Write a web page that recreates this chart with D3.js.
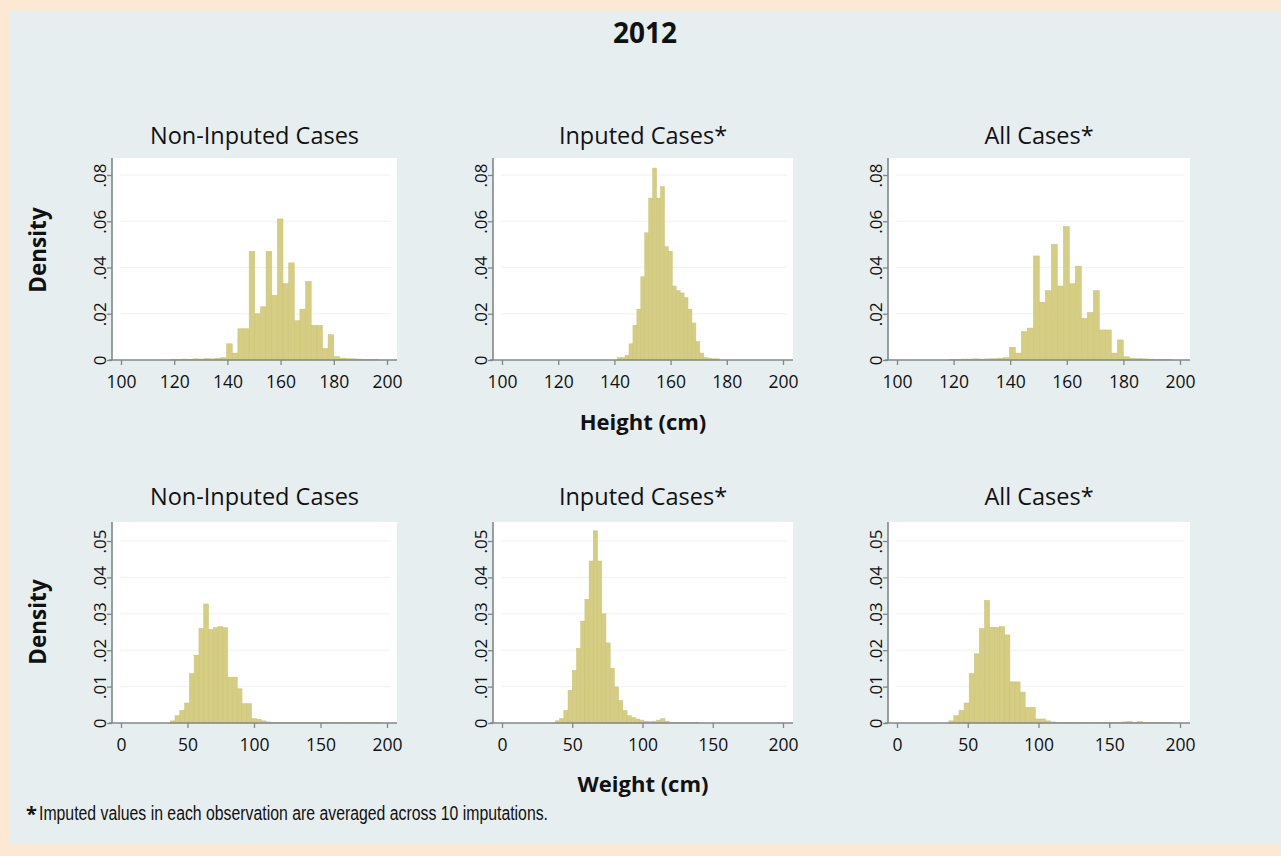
<!DOCTYPE html>
<html>
<head>
<meta charset="utf-8">
<script src="https://cdn.jsdelivr.net/npm/d3@7"></script>
<style>
  html, body { margin: 0; padding: 0; background: #fde9d3; }
  svg { display: block; }
  text { font-family: "Open Sans", "Noto Sans", sans-serif; fill: #111; }
</style>
</head>
<body>
<svg id="chart" width="1281" height="856"></svg>
<script>
// ---- Tick values and titles ----
const heightTicks = [100, 120, 140, 160, 180, 200];
const weightTicks = [0, 50, 100, 150, 200];
const heightDensityTicks = [0, 0.02, 0.04, 0.06, 0.08];
const weightDensityTicks = [0, 0.01, 0.02, 0.03, 0.04, 0.05];
const panelTitles = ["Non-Inputed Cases", "Inputed Cases*", "All Cases*"];

// ---- Histogram bins: left edge of the first bin and bin width (data units) ----
const heightNonImputedBins = { start: 118.5, width: 2.12 };
const heightImputedBins    = { start: 141.0, width: 1.4 };
const heightAllBins        = { start: 118.5, width: 2.12 };
const weightNonImputedBins = { start: 37.0, width: 3.6 };
const weightImputedBins    = { start: 38.0, width: 3.0 };
const weightAllBins        = { start: 36.6, width: 3.6 };

// ---- Bin densities ----
const heightNonImputed = [
  0.0003, 0.0003, 0.0004, 0.0003, 0.0005, 0.0004, 0.0006, 0.0005, 0.0008, 0.0010,
  0.007, 0.003, 0.0135, 0.0135, 0.047, 0.020, 0.023, 0.047, 0.028, 0.061,
  0.033, 0.042, 0.017, 0.022, 0.034, 0.015, 0.015, 0.005, 0.011,
  0.0015, 0.0008, 0.0006, 0.0005, 0.0004, 0.0003, 0.0003, 0.0002
];
const heightImputed = [
  0.001, 0.001, 0.002, 0.007, 0.015, 0.022, 0.036, 0.055, 0.070, 0.083,
  0.070, 0.075, 0.049, 0.047, 0.032, 0.030, 0.029, 0.027, 0.022, 0.016,
  0.008, 0.003, 0.001, 0.0008, 0.0005, 0.0005
];
const heightAll = [
  0.0003, 0.0003, 0.0004, 0.0004, 0.0005, 0.0004, 0.0005, 0.0006, 0.0008, 0.0010,
  0.0055, 0.003, 0.0123, 0.0138, 0.045, 0.025, 0.030, 0.050, 0.032, 0.0577,
  0.033, 0.0406, 0.018, 0.0206, 0.030, 0.013, 0.013, 0.003, 0.0087,
  0.0014, 0.0008, 0.0006, 0.0005, 0.0004, 0.0003, 0.0003, 0.0002
];
const weightNonImputed = [
  0.0006, 0.002, 0.0035, 0.0055, 0.0136, 0.0186, 0.026, 0.0327, 0.0257, 0.0262,
  0.0265, 0.0262, 0.0126, 0.0126, 0.0094, 0.0053, 0.0053, 0.0012, 0.0010, 0.0006,
  0.0003, 0.0002, 0.0002, 0.0002, 0.0001, 0.0001, 0.0002, 0.0001, 0.0001, 0.0002,
  0.0001, 0.0001, 0.0002, 0.0001, 0.0001, 0.0001, 0.0001, 0.0001, 0.0001, 0.0001,
  0.0001, 0.0001, 0.0001, 0.0001
];
const weightImputed = [
  0.0006, 0.0012, 0.0035, 0.009, 0.0145, 0.0205, 0.028, 0.034, 0.0445, 0.0528,
  0.0445, 0.030, 0.022, 0.015, 0.0099, 0.0062, 0.0034, 0.002, 0.0015, 0.0011,
  0.0008, 0.0005, 0.0004, 0.0005, 0.0008, 0.0012, 0.0005, 0.0002, 0.0002, 0.0001,
  0.0001, 0.0001, 0.0001, 0.0001
];
const weightAll = [
  0.0006, 0.002, 0.0035, 0.0055, 0.0136, 0.019, 0.026, 0.0337, 0.0263, 0.0263,
  0.0265, 0.0242, 0.0113, 0.0113, 0.0085, 0.0043, 0.0043, 0.0011, 0.0011, 0.0006,
  0.0003, 0.0002, 0.0002, 0.0002, 0.0001, 0.0001, 0.0002, 0.0001, 0.0001, 0.0001,
  0.0002, 0.0001, 0.0001, 0.0001, 0.0003, 0.0004, 0.0002, 0.0004, 0.0002, 0.0001,
  0.0002, 0.0001, 0.0001, 0.0001
];

// ---- Layout ----
const W = 1281, H = 856;
const svg = d3.select("#chart");

const COLORS = {
  page: "#fde9d3",
  panel: "#e7eef0",
  plot: "#ffffff",
  grid: "#f0f2ee",
  axis: "#80888a",
  barFill: "#d5cd82",
  barStroke: "#cbc278"
};

// graph region
svg.append("rect").attr("x", 0).attr("y", 0).attr("width", W).attr("height", H).attr("fill", COLORS.page);
svg.append("rect").attr("x", 9).attr("y", 11).attr("width", W - 9).attr("height", 833).attr("fill", COLORS.panel);

// column geometry: y-axis position, pixel of first/last x tick, right edge of plot region
const cols = [
  { axis: 112, px0: 121, px1: 387, right: 397 },
  { axis: 493, px0: 502, px1: 783, right: 793 },
  { axis: 888, px0: 897, px1: 1180, right: 1190 }
];
// row geometry: top of plot region, baseline, pixel of top density tick
const rows = [
  { top: 158, base: 360, ptop: 175, xTicks: heightTicks, yTicks: heightDensityTicks,
    titleY: 144, axisTitle: "Height (cm)", axisTitleY: 430, densityY: 250 },
  { top: 522, base: 723, ptop: 541, xTicks: weightTicks, yTicks: weightDensityTicks,
    titleY: 505, axisTitle: "Weight (cm)", axisTitleY: 792, densityY: 622 }
];

const panels = [
  { row: 0, col: 0, bins: heightNonImputedBins, dens: heightNonImputed },
  { row: 0, col: 1, bins: heightImputedBins,    dens: heightImputed },
  { row: 0, col: 2, bins: heightAllBins,        dens: heightAll },
  { row: 1, col: 0, bins: weightNonImputedBins, dens: weightNonImputed },
  { row: 1, col: 1, bins: weightImputedBins,    dens: weightImputed },
  { row: 1, col: 2, bins: weightAllBins,        dens: weightAll }
];

// Stata-style density labels: 0, .02, .04 ...
const densFmt = d => d === 0 ? "0" : d3.format(".2f")(d).replace(/^0/, "");

// main title
svg.append("text")
  .attr("x", 645).attr("y", 43)
  .attr("text-anchor", "middle")
  .style("font-size", "28px").style("font-weight", "700")
  .text("2012");

panels.forEach(p => {
  const r = rows[p.row], c = cols[p.col];
  const xDom = [r.xTicks[0], r.xTicks[r.xTicks.length - 1]];
  const yMax = r.yTicks[r.yTicks.length - 1];
  const x = d3.scaleLinear().domain(xDom).range([c.px0, c.px1]);
  const y = d3.scaleLinear().domain([0, yMax]).range([r.base, r.ptop]);

  const g = svg.append("g");

  // plot region
  g.append("rect")
    .attr("x", c.axis).attr("y", r.top)
    .attr("width", c.right - c.axis).attr("height", r.base - r.top)
    .attr("fill", COLORS.plot);

  // faint gridlines
  g.selectAll("line.grid")
    .data(r.yTicks.filter(t => t > 0))
    .join("line")
    .attr("class", "grid")
    .attr("x1", c.axis + 8).attr("x2", c.right - 6)
    .attr("y1", d => y(d)).attr("y2", d => y(d))
    .attr("stroke", COLORS.grid).attr("stroke-width", 1);

  // histogram bars
  const bars = p.dens.map((d, i) => ({
    x0: p.bins.start + i * p.bins.width,
    x1: p.bins.start + (i + 1) * p.bins.width,
    d
  })).filter(b => b.d > 0);

  g.selectAll("rect.bar")
    .data(bars)
    .join("rect")
    .attr("class", "bar")
    .attr("x", b => x(b.x0))
    .attr("width", b => Math.max(0.5, x(b.x1) - x(b.x0)))
    .attr("y", b => y(b.d))
    .attr("height", b => r.base - y(b.d))
    .attr("fill", COLORS.barFill)
    .attr("stroke", COLORS.barStroke)
    .attr("stroke-width", 0.5);

  // y axis
  const yAxis = d3.axisLeft(y).tickValues(r.yTicks).tickFormat(densFmt)
    .tickSize(5).tickSizeOuter(0);
  const ya = g.append("g").attr("transform", `translate(${c.axis},0)`).call(yAxis);
  ya.select(".domain").remove();
  ya.selectAll(".tick line").attr("stroke", COLORS.axis).attr("stroke-width", 1.3);
  ya.selectAll(".tick text")
    .attr("transform", "rotate(-90)")
    .attr("x", 0).attr("y", -6).attr("dy", 0)
    .attr("text-anchor", "middle")
    .style("font-size", "17px")
    .style("font-family", "'Open Sans', 'Noto Sans', sans-serif")
    .attr("fill", "#111");
  g.append("line")
    .attr("x1", c.axis).attr("x2", c.axis)
    .attr("y1", r.top).attr("y2", r.base)
    .attr("stroke", COLORS.axis).attr("stroke-width", 1.6);

  // x axis
  const xAxis = d3.axisBottom(x).tickValues(r.xTicks).tickFormat(d3.format("d"))
    .tickSize(5).tickPadding(11).tickSizeOuter(0);
  const xa = g.append("g").attr("transform", `translate(0,${r.base})`).call(xAxis);
  xa.select(".domain").remove();
  xa.selectAll(".tick line").attr("stroke", COLORS.axis).attr("stroke-width", 1.3);
  xa.selectAll(".tick text")
    .style("font-size", "17.5px")
    .style("font-family", "'Open Sans', 'Noto Sans', sans-serif")
    .attr("fill", "#111");
  g.append("line")
    .attr("x1", c.axis - 3).attr("x2", c.right)
    .attr("y1", r.base).attr("y2", r.base)
    .attr("stroke", COLORS.axis).attr("stroke-width", 1.6);

  // panel title
  g.append("text")
    .attr("x", (c.axis + c.right) / 2).attr("y", r.titleY)
    .attr("text-anchor", "middle")
    .style("font-size", "23.5px")
    .text(panelTitles[p.col]);
});

// shared axis titles
rows.forEach(r => {
  svg.append("text")
    .attr("x", 643).attr("y", r.axisTitleY)
    .attr("text-anchor", "middle")
    .style("font-size", "22px").style("font-weight", "700")
    .text(r.axisTitle);
  svg.append("text")
    .attr("transform", `translate(46,${r.densityY}) rotate(-90)`)
    .attr("text-anchor", "middle")
    .style("font-size", "22.5px").style("font-weight", "700")
    .text("Density");
});

// footnote
svg.append("text")
  .attr("x", 26).attr("y", 821)
  .style("font-size", "20px").style("font-weight", "700")
  .text("*");
svg.append("text")
  .attr("x", 39).attr("y", 820)
  .attr("textLength", 509).attr("lengthAdjust", "spacingAndGlyphs")
  .style("font-size", "19.5px")
  .style("font-family", "'Liberation Sans', 'Open Sans', sans-serif")
  .text("Imputed values in each observation are averaged across 10 imputations.");
</script>
</body>
</html>
